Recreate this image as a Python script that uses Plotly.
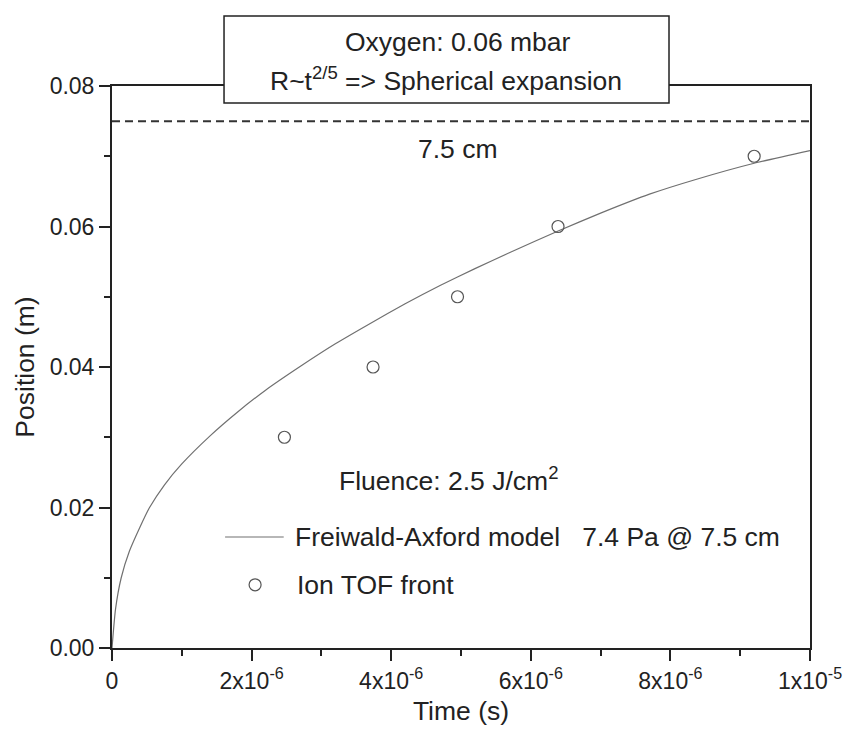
import plotly.graph_objects as go

# Freiwald-Axford model curve: time (s) and front position (m)
model_t = [0, 0.05e-6, 0.132e-6, 0.25e-6, 0.40e-6, 0.538e-6, 0.75e-6, 1.0e-6,
           1.405e-6, 1.8e-6, 2.2e-6, 2.7e-6, 3.2e-6, 3.7e-6, 4.2e-6, 4.7e-6,
           5.2e-6, 5.7e-6, 6.4e-6, 7.0e-6, 7.7e-6, 8.4e-6, 9.2e-6, 1.0e-5]
model_r = [0, 0.0055, 0.0100, 0.0138, 0.0172, 0.0200, 0.0232, 0.0262,
           0.0302, 0.0336, 0.0367, 0.0401, 0.0433, 0.0462, 0.0490, 0.0516,
           0.0540, 0.0563, 0.0594, 0.0619, 0.0646, 0.0668, 0.0690, 0.0708]

# Ion time-of-flight front measurements
tof_t = [2.47e-6, 3.74e-6, 4.95e-6, 6.39e-6, 9.20e-6]
tof_r = [0.030, 0.040, 0.050, 0.060, 0.070]

# Detector distance marker
detector_t = [0, 1.0e-5]
detector_r = [0.075, 0.075]

x_tickvals = [0, 2e-6, 4e-6, 6e-6, 8e-6, 1e-5]
x_ticktext = ["0", "2x10<sup>-6</sup>", "4x10<sup>-6</sup>", "6x10<sup>-6</sup>",
              "8x10<sup>-6</sup>", "1x10<sup>-5</sup>"]
y_tickvals = [0.00, 0.02, 0.04, 0.06, 0.08]

FONT = "Liberation Sans, Arial, sans-serif"
INK = "#222222"
FS = 26.5
TICK_FS = 23

fig = go.Figure()
fig.add_trace(go.Scatter(x=detector_t, y=detector_r, mode="lines",
                         line=dict(color="#333333", width=2, dash="8px,5px"),
                         showlegend=False, hoverinfo="skip"))
fig.add_trace(go.Scatter(x=model_t, y=model_r, mode="lines",
                         line=dict(color="#707070", width=1.2, shape="spline", smoothing=0.5),
                         name="Freiwald-Axford model   7.4 Pa @ 7.5 cm", showlegend=False))
fig.add_trace(go.Scatter(x=tof_t, y=tof_r, mode="markers",
                         marker=dict(symbol="circle-open", size=12,
                                     line=dict(color="#555555", width=1.2), color="#555555"),
                         name="Ion TOF front", showlegend=False))

axis_common = dict(showline=True, linecolor=INK, linewidth=2, mirror=True,
                   ticks="outside", ticklen=11, tickwidth=1.5, tickcolor=INK,
                   showgrid=False, zeroline=False, ticklabeloverflow="allow",
                   automargin=False,
                   tickfont=dict(family=FONT, size=TICK_FS, color=INK))

fig.update_xaxes(range=[0, 1.000001e-5], tickmode="array", tickvals=x_tickvals, ticktext=x_ticktext,
                 minor=dict(ticks="outside", ticklen=6, tickwidth=1.5, tickcolor=INK,
                            dtick=1e-6, tick0=0, showgrid=False),
                 title=dict(text="Time (s)", font=dict(family=FONT, size=FS, color=INK), standoff=9),
                 **axis_common)
fig.update_yaxes(range=[0, 0.080001], tickmode="array", tickvals=y_tickvals, tickformat=".2f",
                 minor=dict(ticks="outside", ticklen=6, tickwidth=1.5, tickcolor=INK,
                            dtick=0.01, tick0=0, showgrid=False),
                 title=dict(text="Position (m)", font=dict(family=FONT, size=FS, color=INK), standoff=7),
                 **axis_common)

# Header box above the plot
fig.add_shape(type="rect", xref="paper", yref="paper", x0=0.1605, x1=0.798, y0=0.9698, y1=1.1246,
              line=dict(color=INK, width=1.5), fillcolor="white", layer="above")

text_font = dict(family=FONT, size=FS, color=INK)
annotations = [
    dict(text="Oxygen: 0.06 mbar", xref="paper", yref="paper", x=0.4957, y=1.0783,
         xanchor="center", yanchor="middle"),
    dict(text="R~t<sup>2/5</sup> => Spherical expansion", xref="paper", yref="paper",
         x=0.4792, y=1.012, xanchor="center", yanchor="middle"),
    dict(text="7.5 cm", x=4.95e-6, y=0.0710, xanchor="center", yanchor="middle"),
    dict(text="Fluence: 2.5 J/cm<sup>2</sup>", x=3.22e-6, y=0.0240, xanchor="left", yanchor="middle"),
    dict(text="Freiwald-Axford model   7.4 Pa @ 7.5 cm", x=2.60e-6, y=0.0158,
         xanchor="left", yanchor="middle"),
    dict(text="Ion TOF front", x=2.62e-6, y=0.0090, xanchor="left", yanchor="middle"),
]
for a in annotations:
    fig.add_annotation(showarrow=False, font=text_font, **a)

# Key samples for the two series
fig.add_shape(type="line", x0=1.62e-6, x1=2.46e-6, y0=0.0158, y1=0.0158,
              line=dict(color="#707070", width=1.2))
fig.add_shape(type="circle", xsizemode="pixel", ysizemode="pixel",
              xanchor=2.05e-6, yanchor=0.0090, x0=-6, x1=6, y0=-6, y1=6,
              line=dict(color="#555555", width=1.2))

fig.update_layout(width=843, height=733, paper_bgcolor="white", plot_bgcolor="white",
                  margin=dict(l=112, r=33, t=86, b=85), font=text_font)

fig.write_html("out.html")
